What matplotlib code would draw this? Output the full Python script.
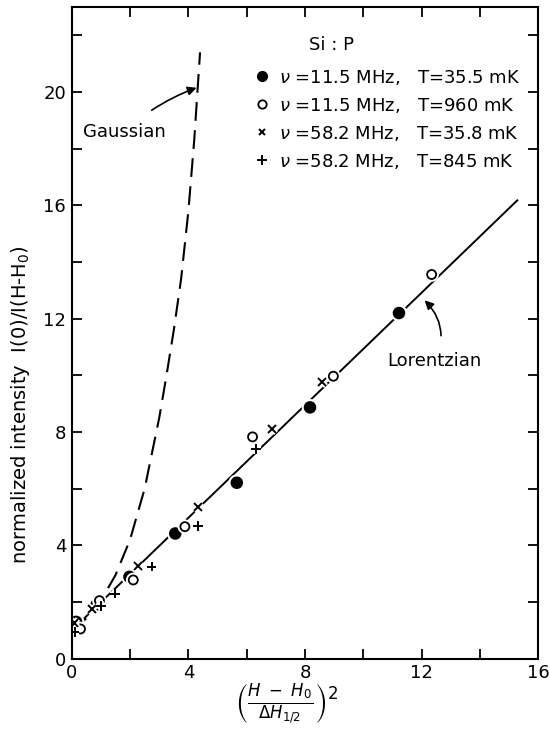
import matplotlib
matplotlib.use('Agg')
import matplotlib.pyplot as plt
import matplotlib.patheffects as pe
from matplotlib.ticker import MultipleLocator
from matplotlib.lines import Line2D

plt.rcParams['font.family'] = ['Liberation Sans Narrow', 'DejaVu Sans']
plt.rcParams['mathtext.fontset'] = 'dejavusans'

# Si:P line shape data, x = ((H-H0)/dH_1/2)^2, y = I(0)/I(H-H0)
fill_x = [0.15, 0.85, 1.98, 3.55, 5.66, 8.17, 11.22]
fill_y = [1.3, 1.9, 2.89, 4.42, 6.21, 8.87, 12.2]
open_x = [0.3, 0.95, 2.11, 3.88, 6.2, 8.97, 12.34]
open_y = [1.05, 2.05, 2.78, 4.66, 7.83, 9.97, 13.56]
cross_x = [0.1, 0.7, 2.28, 4.34, 6.86, 8.57]
cross_y = [1.25, 1.75, 3.27, 5.36, 8.1, 9.77]
plus_x = [0.1, 1.0, 1.49, 2.74, 4.34, 6.32]
plus_y = [0.95, 1.85, 2.3, 3.25, 4.69, 7.39]

# theory curves
lor_x = [0.0, 15.3]
lor_y = [1.0, 16.2]
gau_x = [0, 0.5, 1.0, 1.5, 2.0, 2.5, 3.0, 3.25, 3.5, 3.75, 4.0, 4.2, 4.4]
gau_y = [1.0, 1.42, 2.05, 2.95, 4.2, 6.0, 8.5, 10.0, 11.6, 13.4, 15.8, 18.3, 21.4]

freqs = ['11.5', '11.5', '58.2', '58.2']
temps = ['35.5', '960', '35.8', '845']

fig = plt.figure(figsize=(5.5, 7.46), dpi=100)
ax = fig.add_axes([0.1304, 0.117, 0.8485, 0.8736])

ax.plot(lor_x, lor_y, color='black', lw=1.4, solid_capstyle='butt')
ax.plot(gau_x, gau_y, color='black', lw=1.5, dashes=(9, 4.5))

halo = [pe.Stroke(linewidth=4, foreground='white'), pe.Normal()]
ax.plot(fill_x, fill_y, 'o', ms=8, mfc='black', mec='black', path_effects=halo)
ax.plot(open_x, open_y, 'o', ms=6.5, mfc='white', mec='black', mew=1.3, path_effects=halo)
ax.plot(cross_x, cross_y, 'x', ms=5.5, mec='black', mew=1.4, path_effects=halo)
ax.plot(plus_x, plus_y, '+', ms=7, mec='black', mew=1.4, path_effects=halo)

ax.set_xlim(0, 16)
ax.set_ylim(0, 23)
ax.xaxis.set_major_locator(MultipleLocator(4))
ax.xaxis.set_minor_locator(MultipleLocator(2))
ax.yaxis.set_major_locator(MultipleLocator(4))
ax.yaxis.set_minor_locator(MultipleLocator(2))
ax.tick_params(which='both', direction='in', length=7, width=1.3,
               top=True, right=True, labelsize=13, pad=4)
for sp in ax.spines.values():
    sp.set_linewidth(1.5)

ax.set_xlabel(r'$\left(\frac{H\ -\ H_0}{\Delta H_{1/2}}\right)^2$', fontsize=17)
ax.xaxis.set_label_coords(0.46, -0.035, transform=ax.transAxes)
ax.xaxis.label.set_va('top')
ax.set_ylabel('normalized intensity  I(0)/I(H-H$_0$)', fontsize=14)
ax.yaxis.set_label_coords(-0.085, 0.39)

# curve labels
ax.annotate('Gaussian', xy=(4.28, 20.15), xytext=(1.8, 18.6), fontsize=13,
            ha='center', va='center',
            arrowprops=dict(arrowstyle='-|>', color='black', lw=1.2,
                            shrinkA=12, shrinkB=0,
                            connectionstyle='arc3,rad=-0.1'))
ax.annotate('Lorentzian', xy=(12.1, 12.65), xytext=(12.45, 10.5), fontsize=13,
            ha='center', va='center',
            arrowprops=dict(arrowstyle='-|>', color='black', lw=1.2,
                            shrinkA=10, shrinkB=0,
                            connectionstyle='arc3,rad=0.35'))

handles = [
    Line2D([], [], ls='none', marker='o', ms=7, mfc='black', mec='black'),
    Line2D([], [], ls='none', marker='o', ms=6, mfc='white', mec='black', mew=1.3),
    Line2D([], [], ls='none', marker='x', ms=5, mec='black', mew=1.4),
    Line2D([], [], ls='none', marker='+', ms=7, mec='black', mew=1.4),
]
labels = [r'$\nu$ =%s MHz,   T=%s mK' % (f, t) for f, t in zip(freqs, temps)]
ax.legend(handles, labels, loc='upper left', bbox_to_anchor=(0.39, 0.907),
          frameon=False, fontsize=13, handlelength=0.9, handletextpad=0.5,
          labelspacing=0.5, borderpad=0, borderaxespad=0)
ax.text(8.92, 21.65, 'Si : P', fontsize=13, ha='center', va='center')

fig.savefig('out.png', dpi=100)
